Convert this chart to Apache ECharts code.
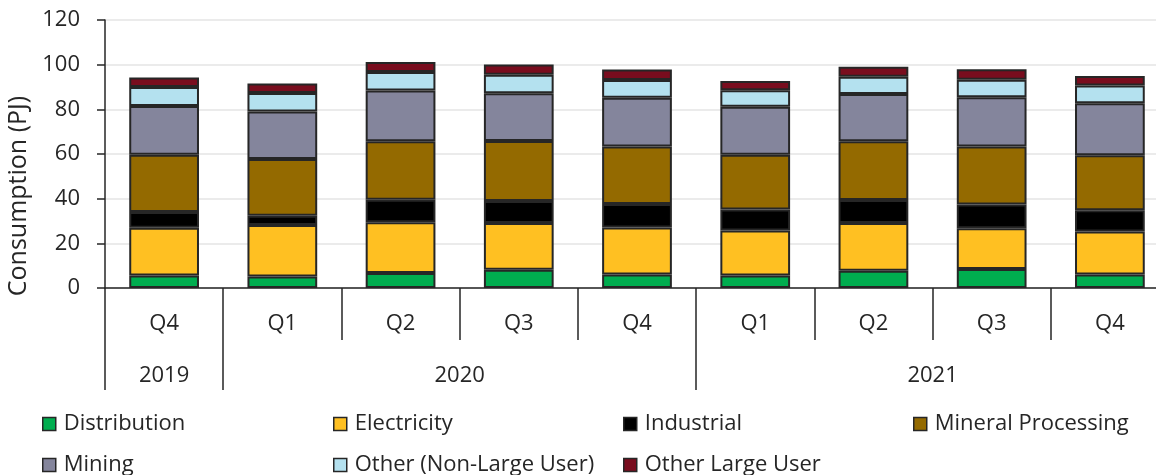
<!DOCTYPE html>
<html><head><meta charset="utf-8">
<script src="https://cdn.jsdelivr.net/npm/echarts@6/dist/echarts.min.js"></script>
<style>html,body{margin:0;padding:0;background:#fff}#c{width:1156px;height:475px}</style>
</head><body><div id="c"></div>
<script>
const quarters = ['Q4','Q1','Q2','Q3','Q4','Q1','Q2','Q3','Q4'];
const years = ['2019','2020','2020','2020','2020','2021','2021','2021','2021'];
const yTicks = [0, 20, 40, 60, 80, 100, 120];

const distribution  = [5.6, 5.2, 6.7, 8.2, 6.1, 5.6, 7.7, 8.5, 6.0];
const electricity   = [21.4, 23.0, 22.7, 20.9, 21.0, 20.2, 21.4, 18.2, 19.3];
const industrial    = [7.0, 4.2, 10.1, 9.9, 10.5, 9.4, 10.3, 10.7, 9.5];
const mineral       = [25.7, 25.4, 26.2, 26.8, 25.8, 24.5, 26.3, 26.0, 24.6];
const mining        = [21.8, 21.2, 22.7, 21.4, 21.8, 21.5, 21.2, 22.0, 23.3];
const otherNonLarge = [8.5, 8.3, 8.3, 8.3, 7.9, 7.3, 7.7, 7.9, 8.0];
const otherLarge    = [4.3, 4.3, 4.5, 4.6, 4.7, 4.2, 4.5, 4.6, 4.2];

const seriesDefs = [
  {name: 'Distribution', data: distribution, color: '#00AD4F'},
  {name: 'Electricity', data: electricity, color: '#FFC022'},
  {name: 'Industrial', data: industrial, color: '#000000'},
  {name: 'Mineral Processing', data: mineral, color: '#946A00'},
  {name: 'Mining', data: mining, color: '#84859C'},
  {name: 'Other (Non-Large User)', data: otherNonLarge, color: '#B4E1EF'},
  {name: 'Other Large User', data: otherLarge, color: '#790D1E'}
];

const categories = years.map((y, i) => y + ' ' + quarters[i]);
const yearList = [];
years.forEach((y, i) => {
  const last = yearList[yearList.length - 1];
  if (!last || last.year !== y) yearList.push({year: y, start: i, end: i + 1});
  else last.end = i + 1;
});
const boundaryIdx = new Set(yearList.map(s => s.start));
const yearCenterMap = {};
yearList.forEach(s => { yearCenterMap[((s.start + s.end) / 2).toFixed(2)] = s.year; });

const FONT = 'Open Sans';
const TXT = '#262626';
const AX = '#262626';
const FS = 22;

const legendPos = [
  [42, 413], [333, 413], [623, 413], [913, 413],
  [42, 454], [333, 454], [623, 454]
];

const chart = echarts.init(document.getElementById('c'), null, {renderer: 'canvas'});
chart.setOption({
  backgroundColor: '#ffffff',
  animation: false,
  textStyle: {fontFamily: FONT},
  grid: {left: 105, top: 20, bottom: 187, width: 1064, containLabel: false, outerBoundsMode: 'none'},
  legend: seriesDefs.map((s, i) => ({
    data: [s.name],
    left: legendPos[i][0], top: legendPos[i][1],
    padding: 0,
    itemWidth: 13, itemHeight: 13,
    icon: 'rect',
    selectedMode: false,
    itemStyle: {borderColor: '#262626', borderWidth: 1.5},
    textStyle: {fontFamily: FONT, fontSize: FS, color: TXT, padding: [0, 0, 0, 3]}
  })),
  xAxis: [
    {
      type: 'category', data: categories, position: 'bottom',
      axisLine: {show: true, lineStyle: {color: AX, width: 1.5}},
      axisTick: {show: true, length: 52, lineStyle: {color: AX, width: 1.5}},
      axisLabel: {formatter: v => v.split(' ')[1], fontSize: FS, color: TXT, margin: 25, fontFamily: FONT, interval: 0},
      splitLine: {show: false}
    },
    {
      type: 'category', data: categories, position: 'bottom',
      axisLine: {show: false},
      axisTick: {show: true, length: 102, interval: (idx) => boundaryIdx.has(idx), lineStyle: {color: AX, width: 1.5}},
      axisLabel: {show: false},
      splitLine: {show: false}
    },
    {
      type: 'value', position: 'bottom', min: 0, max: categories.length, interval: 0.5,
      axisLine: {show: false}, axisTick: {show: false}, splitLine: {show: false},
      axisLabel: {
        fontSize: FS, color: TXT, margin: 77, fontFamily: FONT,
        showMinLabel: true, showMaxLabel: true,
        formatter: v => yearCenterMap[Number(v).toFixed(2)] || ''
      }
    }
  ],
  yAxis: {
    type: 'value', min: yTicks[0], max: yTicks[yTicks.length - 1], interval: yTicks[1] - yTicks[0],
    name: 'Consumption (PJ)', nameLocation: 'middle', nameGap: 70,
    nameTextStyle: {fontSize: 25, color: TXT, fontFamily: FONT, padding: [0, 84, 0, 0]},
    axisLine: {show: true, lineStyle: {color: AX, width: 1.5}},
    axisTick: {show: true, length: 8, lineStyle: {color: AX, width: 1.5}},
    axisLabel: {fontSize: FS, color: TXT, margin: 25, fontFamily: FONT},
    splitLine: {show: true, lineStyle: {color: '#ebebeb', width: 2}}
  },
  series: seriesDefs.map(s => ({
    name: s.name, type: 'bar', stack: 'total', data: s.data,
    xAxisIndex: 0, yAxisIndex: 0,
    barWidth: '59%',
    itemStyle: {color: s.color, borderColor: '#262626', borderWidth: 2},
    emphasis: {disabled: true}
  }))
});
</script></body></html>
